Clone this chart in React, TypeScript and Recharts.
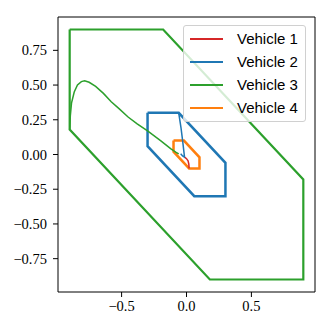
import { ComposedChart, Line, XAxis, YAxis, ReferenceArea } from 'recharts';

type Pt = { x: number; y: number };

const vehicleNames = ['Vehicle 1', 'Vehicle 2', 'Vehicle 3', 'Vehicle 4'];
const vehicleColors = ['#d62728', '#1f77b4', '#2ca02c', '#ff7f0e'];

// constraint hexagons (closed)
const hexVehicle2: Pt[] = [
  { x: -0.3, y: 0.3 }, { x: -0.06, y: 0.3 }, { x: 0.3, y: -0.06 }, { x: 0.3, y: -0.3 },
  { x: 0.06, y: -0.3 }, { x: -0.3, y: 0.06 }, { x: -0.3, y: 0.3 },
];
const hexVehicle3: Pt[] = [
  { x: -0.9, y: 0.9 }, { x: -0.18, y: 0.9 }, { x: 0.9, y: -0.18 }, { x: 0.9, y: -0.9 },
  { x: 0.18, y: -0.9 }, { x: -0.9, y: 0.18 }, { x: -0.9, y: 0.9 },
];
const hexVehicle4: Pt[] = [
  { x: -0.1, y: 0.1 }, { x: -0.02, y: 0.1 }, { x: 0.1, y: -0.02 }, { x: 0.1, y: -0.1 },
  { x: 0.02, y: -0.1 }, { x: -0.1, y: 0.02 }, { x: -0.1, y: 0.1 },
];

// trajectories
const pathVehicle1: Pt[] = [
  { x: 0.02, y: -0.1 }, { x: 0.018, y: -0.07 }, { x: 0.012, y: -0.045 },
  { x: 0.0, y: -0.03 }, { x: -0.012, y: -0.02 },
];
const pathVehicle2: Pt[] = [
  { x: -0.06, y: 0.3 }, { x: -0.042, y: 0.19 }, { x: -0.029, y: 0.093 },
  { x: -0.017, y: -0.004 }, { x: -0.015, y: -0.02 }, { x: -0.03, y: -0.01 }, { x: -0.045, y: 0.005 },
];
const pathVehicle3: Pt[] = [
  { x: -0.9, y: 0.18 }, { x: -0.895, y: 0.28 }, { x: -0.886, y: 0.37 }, { x: -0.865, y: 0.45 },
  { x: -0.84, y: 0.5 }, { x: -0.81, y: 0.525 }, { x: -0.785, y: 0.53 }, { x: -0.75, y: 0.52 },
  { x: -0.7, y: 0.49 }, { x: -0.64, y: 0.44 }, { x: -0.58, y: 0.38 }, { x: -0.52, y: 0.33 },
  { x: -0.45, y: 0.27 }, { x: -0.38, y: 0.22 }, { x: -0.3, y: 0.17 }, { x: -0.2, y: 0.1 },
  { x: -0.12, y: 0.04 }, { x: -0.08, y: 0.015 }, { x: -0.06, y: 0.005 },
];

const xTicks = [-0.5, 0, 0.5];
const yTicks = [-0.75, -0.5, -0.25, 0, 0.25, 0.5, 0.75];
const axisLimits: [number, number] = [-0.99, 0.99];

const fmt = (v: number, d: number) => (v < 0 ? '\u2212' : '') + Math.abs(v).toFixed(d);

const tickFont = { fontFamily: '"Liberation Serif", serif', fontSize: 14.5, fill: '#000' };

function PlotLegend() {
  return (
    <div
      style={{
        position: 'absolute', left: 183, top: 25, width: 121, height: 95,
        background: 'rgba(255,255,255,0.8)', border: '1px solid #d0d0d0', borderRadius: 3,
        fontFamily: '"Liberation Sans", Arial, sans-serif', fontSize: 15, color: '#000',
      }}
    >
      {vehicleNames.map((name, i) => (
        <div key={name} style={{ position: 'absolute', left: 0, top: 3 + i * 22.9, height: 20, width: 121 }}>
          <div style={{ position: 'absolute', left: 6, top: 9, width: 33, height: 2, background: vehicleColors[i] }} />
          <span style={{ position: 'absolute', left: 53, top: 0, lineHeight: '20px' }}>{name}</span>
        </div>
      ))}
    </div>
  );
}

export default function App() {
  const lines: { key: string; data: Pt[]; color: string; width: number }[] = [
    { key: 'hex3', data: hexVehicle3, color: vehicleColors[2], width: 2.2 },
    { key: 'hex2', data: hexVehicle2, color: vehicleColors[1], width: 2.5 },
    { key: 'hex4', data: hexVehicle4, color: vehicleColors[3], width: 2.5 },
    { key: 'path3', data: pathVehicle3, color: vehicleColors[2], width: 1.5 },
    { key: 'path2', data: pathVehicle2, color: vehicleColors[1], width: 1.5 },
    { key: 'path1', data: pathVehicle1, color: vehicleColors[0], width: 1.5 },
  ];
  return (
    <div style={{ position: 'fixed', left: 0, top: 0, width: 332, height: 332, background: '#fff' }}>
      <ComposedChart width={332} height={332} margin={{ top: 17, right: 17, bottom: 0, left: 0 }}>
        <XAxis
          dataKey="x" type="number" domain={axisLimits} allowDataOverflow ticks={xTicks}
          tickFormatter={(v: number) => fmt(v, 1)} tick={tickFont} tickSize={5} tickMargin={4}
          height={40} axisLine={false} tickLine={{ stroke: '#000' }} interval={0}
        />
        <YAxis
          dataKey="y" type="number" domain={axisLimits} allowDataOverflow ticks={yTicks}
          tickFormatter={(v: number) => fmt(v, 2)} tick={tickFont} tickSize={5} tickMargin={6}
          width={58} axisLine={false} tickLine={{ stroke: '#000' }} interval={0}
        />
        <ReferenceArea
          x1={axisLimits[0]} x2={axisLimits[1]} y1={axisLimits[0]} y2={axisLimits[1]}
          fill="none" fillOpacity={0} stroke="#000" strokeWidth={1} strokeOpacity={1}
          ifOverflow="visible"
        />
        {lines.map((l) => (
          <Line
            key={l.key} data={l.data} dataKey="y" type="linear" stroke={l.color}
            strokeWidth={l.width} dot={false} activeDot={false} isAnimationActive={false}
            strokeLinejoin="miter"
          />
        ))}
      </ComposedChart>
      <PlotLegend />
    </div>
  );
}
